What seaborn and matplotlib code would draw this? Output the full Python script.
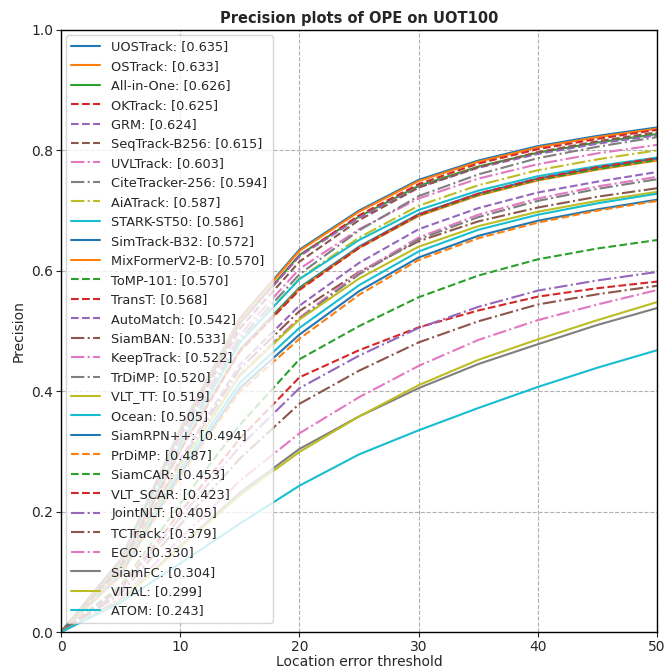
import matplotlib
matplotlib.use('Agg')
import matplotlib.pyplot as plt
import seaborn as sns

# Precision vs location error threshold
thresholds = [0, 5, 10, 15, 20, 25, 30, 35, 40, 45, 50]

trackers = ['UOSTrack', 'OSTrack', 'All-in-One', 'OKTrack', 'GRM', 'SeqTrack-B256',
            'UVLTrack', 'CiteTracker-256', 'AiATrack', 'STARK-ST50', 'SimTrack-B32',
            'MixFormerV2-B', 'ToMP-101', 'TransT', 'AutoMatch', 'SiamBAN', 'KeepTrack',
            'TrDiMP', 'VLT_TT', 'Ocean', 'SiamRPN++', 'PrDiMP', 'SiamCAR', 'VLT_SCAR',
            'JointNLT', 'TCTrack', 'ECO', 'SiamFC', 'VITAL', 'ATOM']

scores = [0.635, 0.633, 0.626, 0.625, 0.624, 0.615, 0.603, 0.594, 0.587, 0.586,
          0.572, 0.570, 0.570, 0.568, 0.542, 0.533, 0.522, 0.520, 0.519, 0.505,
          0.494, 0.487, 0.453, 0.423, 0.405, 0.379, 0.330, 0.304, 0.299, 0.243]

uostrack = [0, 0.120, 0.337, 0.521, 0.635, 0.700, 0.751, 0.783, 0.807, 0.824, 0.838]
ostrack = [0, 0.120, 0.335, 0.519, 0.633, 0.698, 0.749, 0.781, 0.805, 0.822, 0.836]
allinone = [0, 0.119, 0.332, 0.513, 0.626, 0.690, 0.741, 0.773, 0.796, 0.813, 0.827]
oktrack = [0, 0.119, 0.331, 0.513, 0.625, 0.692, 0.744, 0.778, 0.802, 0.819, 0.834]
grm = [0, 0.119, 0.331, 0.512, 0.624, 0.688, 0.739, 0.771, 0.794, 0.811, 0.825]
seqtrack = [0, 0.117, 0.326, 0.504, 0.615, 0.684, 0.738, 0.772, 0.797, 0.815, 0.830]
uvltrack = [0, 0.115, 0.320, 0.494, 0.603, 0.669, 0.720, 0.753, 0.777, 0.795, 0.809]
citetracker = [0, 0.113, 0.315, 0.487, 0.594, 0.667, 0.724, 0.760, 0.787, 0.806, 0.822]
aiatrack = [0, 0.112, 0.311, 0.481, 0.587, 0.655, 0.708, 0.742, 0.767, 0.785, 0.800]
stark = [0, 0.111, 0.311, 0.481, 0.586, 0.651, 0.701, 0.733, 0.757, 0.774, 0.788]
simtrack = [0, 0.109, 0.303, 0.469, 0.572, 0.640, 0.694, 0.728, 0.753, 0.771, 0.786]
mixformer = [0, 0.108, 0.302, 0.467, 0.570, 0.638, 0.691, 0.725, 0.750, 0.768, 0.783]
tomp = [0, 0.108, 0.302, 0.467, 0.570, 0.638, 0.692, 0.726, 0.751, 0.769, 0.784]
transt = [0, 0.108, 0.301, 0.466, 0.568, 0.638, 0.693, 0.728, 0.753, 0.772, 0.787]
automatch = [0, 0.103, 0.287, 0.444, 0.542, 0.613, 0.669, 0.704, 0.730, 0.748, 0.764]
siamban = [0, 0.101, 0.282, 0.437, 0.533, 0.598, 0.649, 0.682, 0.705, 0.723, 0.737]
keeptrack = [0, 0.099, 0.277, 0.428, 0.522, 0.597, 0.655, 0.693, 0.720, 0.740, 0.756]
trdimp = [0, 0.099, 0.276, 0.426, 0.520, 0.594, 0.652, 0.689, 0.716, 0.736, 0.752]
vlt_tt = [0, 0.099, 0.275, 0.426, 0.519, 0.587, 0.640, 0.674, 0.698, 0.716, 0.731]
ocean = [0, 0.096, 0.268, 0.414, 0.505, 0.576, 0.632, 0.668, 0.693, 0.712, 0.728]
siamrpn = [0, 0.094, 0.262, 0.405, 0.494, 0.566, 0.622, 0.658, 0.683, 0.702, 0.718]
prdimp = [0, 0.093, 0.258, 0.399, 0.487, 0.560, 0.618, 0.654, 0.680, 0.700, 0.716]
siamcar = [0, 0.077, 0.213, 0.344, 0.453, 0.508, 0.556, 0.592, 0.619, 0.637, 0.651]
vlt_scar = [0, 0.072, 0.199, 0.321, 0.423, 0.468, 0.506, 0.534, 0.557, 0.571, 0.582]
jointnlt = [0, 0.069, 0.190, 0.308, 0.405, 0.459, 0.505, 0.540, 0.567, 0.584, 0.598]
tctrack = [0, 0.064, 0.178, 0.288, 0.379, 0.434, 0.481, 0.516, 0.544, 0.561, 0.575]
eco = [0, 0.056, 0.155, 0.251, 0.330, 0.390, 0.442, 0.485, 0.518, 0.544, 0.568]
siamfc = [0, 0.052, 0.143, 0.231, 0.304, 0.358, 0.405, 0.445, 0.478, 0.510, 0.538]
vital = [0, 0.051, 0.141, 0.227, 0.299, 0.358, 0.410, 0.452, 0.486, 0.518, 0.548]
atom = [0, 0.049, 0.114, 0.180, 0.243, 0.295, 0.335, 0.372, 0.407, 0.439, 0.468]

curves = [uostrack, ostrack, allinone, oktrack, grm, seqtrack, uvltrack, citetracker,
          aiatrack, stark, simtrack, mixformer, tomp, transt, automatch, siamban,
          keeptrack, trdimp, vlt_tt, ocean, siamrpn, prdimp, siamcar, vlt_scar,
          jointnlt, tctrack, eco, siamfc, vital, atom]

sns.set_style('ticks')
plt.rcParams['font.family'] = ['DejaVu Sans']

fig = plt.figure(figsize=(6.66, 6.72), dpi=100)
ax = fig.add_axes([0.0916, 0.0595, 0.895, 0.896])

palette = sns.color_palette('tab10', 10)
styles = ['-', '--', '-.']

for i, (name, vals) in enumerate(zip(trackers, curves)):
    sns.lineplot(x=thresholds, y=vals, ax=ax, color=palette[i % 10],
                 linestyle=styles[(i // 3) % 3], linewidth=1.5,
                 label=f'{name}: [{scores[i]:.3f}]')

ax.set_xlim(0, 50)
ax.set_ylim(0, 1)
ax.set_xticks([0, 10, 20, 30, 40, 50])
ax.set_yticks([0.0, 0.2, 0.4, 0.6, 0.8, 1.0])
ax.grid(True, linestyle='--', color='#b0b0b0', linewidth=0.8)
ax.set_xlabel('Location error threshold', fontsize=10, labelpad=1)
ax.set_ylabel('Precision', fontsize=10)
ax.set_title('Precision plots of OPE on UOT100', fontsize=10.5, fontweight='bold', pad=5)
ax.tick_params(labelsize=10, pad=2)
for s in ax.spines.values():
    s.set_color('black')
    s.set_linewidth(1.0)

ax.legend(loc='upper left', fontsize=9.3, framealpha=0.8, labelspacing=0.5,
          handlelength=2.2, handletextpad=0.9, borderaxespad=0.4)

fig.savefig('out.png', dpi=100)
